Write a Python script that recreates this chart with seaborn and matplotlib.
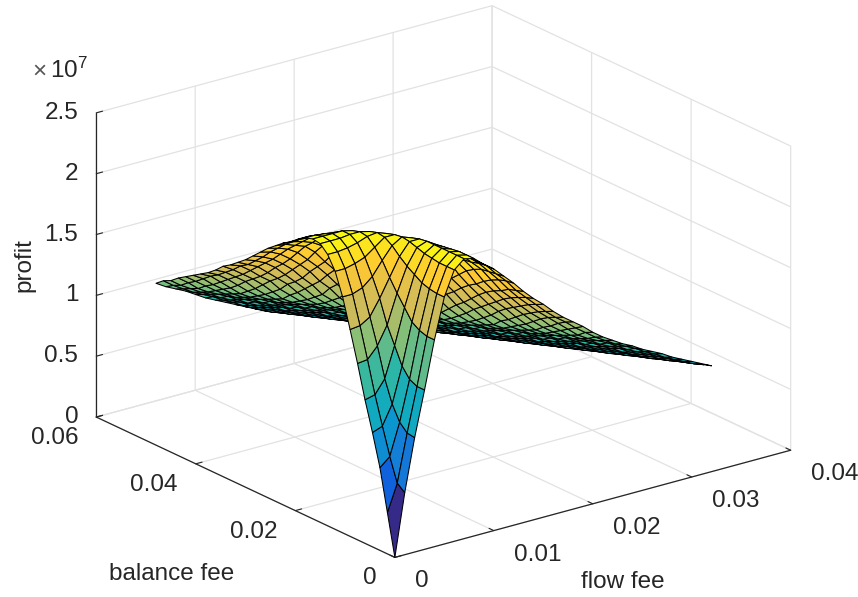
import matplotlib
matplotlib.use("Agg")
import matplotlib.pyplot as plt
from mpl_toolkits.mplot3d import proj3d
import numpy as np
import seaborn as sns

FLOW_FEE = [0, 0.001, 0.002, 0.003, 0.004, 0.005, 0.006, 0.007, 0.008, 0.009,
            0.01, 0.011, 0.012, 0.013, 0.014, 0.015, 0.016, 0.017, 0.018,
            0.019, 0.02, 0.021, 0.022, 0.023, 0.024, 0.025, 0.026, 0.027,
            0.028, 0.029, 0.03, 0.031, 0.032]
BALANCE_FEE = [0, 0.0015, 0.003, 0.0045, 0.006, 0.0075, 0.009, 0.0105, 0.012,
               0.0135, 0.015, 0.0165, 0.018, 0.0195, 0.021, 0.0225, 0.024,
               0.0255, 0.027, 0.0285, 0.03, 0.0315, 0.033, 0.0345, 0.036,
               0.0375, 0.039, 0.0405, 0.042, 0.0435, 0.045, 0.0465, 0.048]

# profit in units of 1e5, one row per balance fee
PROFIT = [
    [0, 51, 94, 131, 170, 203, 223, 230, 228, 221, 215, 207, 199, 190, 182, 175, 167, 160, 154, 148, 141, 135, 130, 125, 121, 116, 112, 108, 103, 99, 95, 91, 87],
    [34, 56, 95, 131, 170, 203, 223, 230, 228, 221, 215, 206, 198, 188, 180, 172, 164, 157, 151, 144, 138, 132, 127, 122, 118, 114, 109, 105, 100, 96, 92, 88, 85],
    [68, 75, 101, 134, 172, 204, 223, 230, 228, 221, 214, 205, 196, 186, 177, 169, 161, 154, 147, 140, 133, 128, 124, 120, 115, 110, 106, 102, 98, 94, 90, 86, 83],
    [94, 97, 113, 142, 176, 206, 224, 230, 227, 220, 212, 204, 193, 182, 174, 165, 157, 150, 142, 136, 130, 125, 121, 116, 112, 108, 103, 99, 95, 91, 87, 84, 81],
    [118, 120, 131, 156, 185, 210, 225, 230, 226, 219, 211, 201, 189, 179, 170, 161, 153, 145, 138, 132, 127, 122, 118, 114, 109, 105, 100, 96, 92, 88, 85, 82, 80],
    [145, 146, 155, 170, 194, 214, 227, 230, 225, 217, 207, 197, 184, 175, 165, 157, 148, 140, 133, 128, 124, 120, 115, 110, 106, 102, 98, 94, 90, 86, 83, 80, 78],
    [170, 171, 176, 189, 204, 219, 229, 229, 222, 214, 204, 191, 180, 170, 160, 152, 143, 136, 130, 125, 121, 116, 112, 108, 103, 99, 95, 91, 87, 84, 81, 78, 76],
    [194, 194, 197, 204, 215, 225, 230, 227, 219, 210, 198, 185, 175, 164, 155, 146, 139, 132, 127, 122, 118, 114, 109, 105, 100, 96, 92, 88, 85, 82, 80, 76, 74],
    [212, 212, 214, 217, 223, 229, 229, 223, 216, 205, 192, 179, 169, 158, 150, 141, 133, 128, 124, 120, 115, 110, 106, 102, 98, 94, 90, 86, 83, 80, 78, 75, 72],
    [223, 223, 224, 226, 229, 230, 227, 219, 210, 198, 185, 174, 164, 153, 144, 136, 130, 125, 121, 116, 112, 108, 103, 99, 95, 91, 87, 84, 81, 78, 76, 73, 70],
    [229, 229, 229, 230, 230, 228, 222, 214, 204, 190, 178, 167, 157, 147, 139, 132, 127, 122, 118, 114, 109, 105, 100, 96, 92, 88, 85, 82, 80, 76, 74, 71, 68],
    [230, 230, 230, 230, 228, 223, 218, 207, 196, 182, 172, 160, 151, 141, 134, 128, 124, 120, 115, 110, 106, 102, 98, 94, 90, 86, 83, 80, 78, 75, 72, 69, 66],
    [228, 228, 227, 226, 222, 218, 210, 200, 187, 176, 164, 154, 144, 136, 130, 125, 121, 116, 112, 108, 103, 99, 95, 91, 87, 84, 81, 78, 75, 73, 70, 67, 64],
    [224, 224, 223, 221, 217, 211, 203, 191, 179, 168, 157, 148, 139, 132, 127, 122, 118, 114, 109, 105, 100, 96, 92, 88, 85, 82, 80, 76, 74, 71, 68, 65, 62],
    [219, 219, 218, 216, 211, 204, 194, 184, 172, 161, 151, 141, 134, 128, 124, 120, 115, 110, 106, 102, 98, 94, 90, 86, 83, 80, 78, 75, 72, 69, 66, 64, 60],
    [215, 214, 212, 209, 204, 195, 185, 175, 164, 155, 145, 136, 130, 125, 121, 116, 112, 108, 103, 99, 95, 91, 87, 84, 81, 78, 76, 73, 70, 67, 64, 62, 58],
    [210, 209, 206, 203, 196, 186, 177, 167, 157, 148, 139, 132, 127, 122, 118, 114, 109, 105, 100, 96, 92, 88, 85, 82, 80, 76, 74, 71, 68, 65, 62, 59, 56],
    [205, 203, 200, 195, 187, 179, 170, 160, 151, 141, 134, 128, 124, 120, 115, 110, 106, 102, 98, 94, 90, 86, 83, 80, 78, 75, 72, 69, 66, 64, 60, 57, 54],
    [199, 197, 193, 187, 180, 172, 162, 154, 144, 136, 130, 125, 121, 116, 112, 108, 103, 99, 95, 91, 87, 84, 81, 78, 76, 73, 70, 67, 64, 62, 58, 55, 52],
    [193, 190, 186, 180, 173, 164, 156, 146, 139, 132, 127, 122, 118, 114, 109, 105, 100, 96, 92, 88, 85, 82, 80, 76, 74, 71, 68, 65, 62, 59, 56, 53, 49],
    [187, 184, 180, 174, 166, 158, 150, 141, 134, 128, 124, 120, 115, 110, 106, 102, 98, 94, 90, 86, 83, 80, 78, 75, 72, 69, 66, 64, 60, 57, 54, 50, 47],
    [182, 178, 174, 167, 160, 153, 144, 136, 130, 125, 121, 116, 112, 108, 103, 99, 95, 91, 87, 84, 81, 78, 76, 73, 70, 67, 64, 62, 58, 55, 52, 48, 45],
    [177, 174, 168, 161, 155, 146, 139, 132, 127, 122, 118, 114, 109, 105, 100, 96, 92, 88, 85, 82, 80, 76, 74, 71, 68, 65, 62, 59, 56, 53, 49, 46, 42],
    [173, 168, 162, 156, 149, 141, 133, 128, 124, 120, 115, 110, 106, 102, 98, 94, 90, 86, 83, 80, 78, 75, 72, 69, 66, 64, 60, 57, 54, 50, 47, 44, 40],
    [167, 163, 157, 151, 143, 136, 130, 125, 121, 116, 112, 108, 103, 99, 95, 91, 87, 84, 81, 78, 76, 73, 70, 67, 64, 62, 58, 55, 52, 48, 45, 41, 38],
    [162, 158, 152, 145, 138, 132, 127, 122, 118, 114, 109, 105, 100, 96, 92, 88, 85, 82, 80, 76, 74, 71, 68, 65, 62, 59, 56, 53, 49, 46, 42, 39, 35],
    [158, 154, 147, 140, 133, 128, 124, 120, 115, 110, 106, 102, 98, 94, 90, 86, 83, 80, 78, 75, 72, 69, 66, 64, 60, 57, 54, 50, 47, 44, 40, 36, 33],
    [154, 149, 142, 136, 130, 125, 121, 116, 112, 108, 103, 99, 95, 91, 87, 84, 81, 78, 76, 73, 70, 67, 64, 62, 58, 55, 52, 48, 45, 41, 38, 34, 31],
    [150, 144, 138, 132, 127, 122, 118, 114, 109, 105, 100, 96, 92, 88, 85, 82, 80, 76, 74, 71, 68, 65, 62, 59, 56, 53, 49, 46, 42, 39, 35, 32, 28],
    [146, 140, 133, 128, 124, 120, 115, 110, 106, 102, 98, 94, 90, 86, 83, 80, 78, 75, 72, 69, 66, 64, 60, 57, 54, 50, 47, 44, 40, 36, 33, 30, 26],
    [141, 135, 130, 125, 121, 116, 112, 108, 103, 99, 95, 91, 87, 84, 81, 78, 76, 73, 70, 67, 64, 62, 58, 55, 52, 48, 45, 41, 38, 34, 31, 27, 24],
    [138, 132, 127, 122, 118, 114, 109, 105, 100, 96, 92, 88, 85, 82, 80, 76, 74, 71, 68, 65, 62, 59, 56, 53, 49, 46, 42, 39, 35, 32, 28, 25, 22],
    [133, 128, 124, 120, 115, 110, 106, 102, 98, 94, 90, 86, 83, 80, 78, 75, 72, 69, 66, 64, 60, 57, 54, 50, 47, 44, 40, 36, 33, 30, 26, 23, 19],
]

FLOW_TICKS = [0, 0.01, 0.02, 0.03, 0.04]
BALANCE_TICKS = [0, 0.02, 0.04, 0.06]
PROFIT_TICKS = [0, 5e6, 1e7, 1.5e7, 2e7, 2.5e7]
PROFIT_LABELS = ["0", "0.5", "1", "1.5", "2", "2.5"]
PARULA = ["#352a87", "#0f5cdd", "#1481d6", "#06a4ca", "#2eb7a4",
          "#87bf77", "#d1bb59", "#fec832", "#f9fb0e"]
FONT_SIZE = 17.5
TEXT_COLOR = "#262626"


def style_axis(axis):
    axis.set_pane_color((1, 1, 1, 0))
    axis.pane.set_edgecolor("none")
    axis.line.set_color(TEXT_COLOR)
    axis.line.set_linewidth(0.9)
    axis._axinfo["grid"].update(color="#e2e2e2", linewidth=0.9)
    axis._axinfo["tick"].update(inward_factor=0, outward_factor=0.2,
                                color=TEXT_COLOR)
    axis._axinfo["tick"]["linewidth"] = {True: 0.8, False: 0.5}


def tick_label(ax, text, point, offset, ha):
    # 3d tick labels cannot be moved freely, so they are annotations
    view_x, view_y, _ = proj3d.proj_transform(*point, ax.get_proj())
    ax.annotate(text, xy=(view_x, view_y), xytext=offset,
                textcoords="offset pixels", ha=ha, va="center",
                fontsize=FONT_SIZE, color=TEXT_COLOR, annotation_clip=False)


def main():
    sns.set_theme(style="white")
    plt.rcParams["font.family"] = ["Liberation Sans", "DejaVu Sans"]
    plt.rcParams["mathtext.default"] = "regular"

    flow, balance = np.meshgrid(FLOW_FEE, BALANCE_FEE)
    profit = np.array(PROFIT) * 1e5
    parula = sns.blend_palette(PARULA, as_cmap=True)

    fig = plt.figure(figsize=(8.58, 5.97), dpi=100)
    ax = fig.add_axes([186.7 / 858, 58.7 / 597, 500 / 858, 500 / 597],
                      projection="3d", proj_type="ortho")
    ax.patch.set_alpha(0)
    ax.view_init(elev=20.9, azim=-127.2)
    ax.set_box_aspect((496, 493, 325), zoom=1.5)

    surface = ax.plot_surface(flow, balance, profit, rstride=1, cstride=1,
                              facecolors=parula(profit / 2.3e7),
                              edgecolor="black", linewidth=0.75,
                              shade=False, antialiased=True)
    surface.set_clip_on(False)

    ax.set_xlim(0, 0.04)
    ax.set_ylim(0, 0.06)
    ax.set_zlim(0, 2.5e7)
    ax.set_xticks(FLOW_TICKS, [""] * len(FLOW_TICKS))
    ax.set_yticks(BALANCE_TICKS, [""] * len(BALANCE_TICKS))
    ax.set_zticks(PROFIT_TICKS, [""] * len(PROFIT_TICKS))
    for axis in (ax.xaxis, ax.yaxis, ax.zaxis):
        style_axis(axis)

    for tick in FLOW_TICKS:
        tick_label(ax, f"{tick:g}", (tick, 0, 0), (20, -24), "left")
    for tick in BALANCE_TICKS:
        tick_label(ax, f"{tick:g}", (0, tick, 0), (-18, -21), "right")
    for tick, label in zip(PROFIT_TICKS, PROFIT_LABELS):
        tick_label(ax, label, (0, 0.06, tick), (-18, 0), "right")

    fig.text(24 / 858, 1 - 265 / 597, "profit", rotation=90,
             fontsize=FONT_SIZE, ha="center", va="center", color=TEXT_COLOR)
    fig.text(172 / 858, 1 - 574 / 597, "balance fee", fontsize=FONT_SIZE,
             ha="center", va="center", color=TEXT_COLOR)
    fig.text(623 / 858, 1 - 582 / 597, "flow fee", fontsize=FONT_SIZE,
             ha="center", va="center", color=TEXT_COLOR)
    fig.text(32 / 858, 1 - 77 / 597, r"$\times$", fontsize=FONT_SIZE,
             color="#555555")
    fig.text(50 / 858, 1 - 78 / 597, "10$^{7}$", fontsize=FONT_SIZE,
             color=TEXT_COLOR)

    fig.savefig("out.png", dpi=100)


if __name__ == '__main__':
    main()
